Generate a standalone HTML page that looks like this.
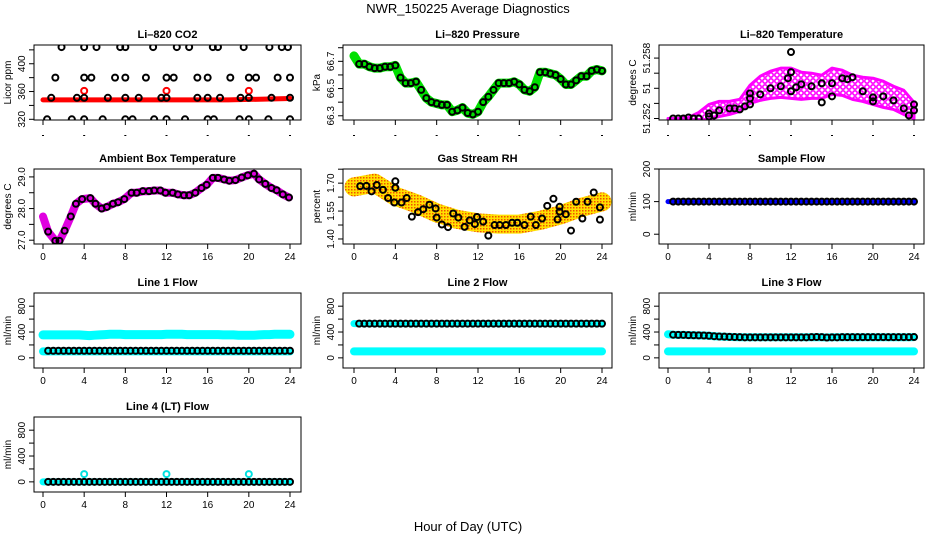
<!DOCTYPE html>
<html><head><meta charset="utf-8"><style>
body{margin:0;background:#fff;}
svg{display:block;font-family:"Liberation Sans",sans-serif;}
</style></head><body>
<svg id="c" width="936" height="540" viewBox="0 0 936 540"></svg>
<script>
const hh=[0,0.5,1,1.5,2,2.5,3,3.5,4,4.5,5,5.5,6,6.5,7,7.5,8,8.5,9,9.5,10,10.5,11,11.5,12,12.5,13,13.5,14,14.5,15,15.5,16,16.5,17,17.5,18,18.5,19,19.5,20,20.5,21,21.5,22,22.5,23,23.5,24];
const xTicks=[0,4,8,12,16,20,24];
// CO2
const co2Hours=[1.8,4,5.2,7.5,8,10.7,13,14.2,16.5,17,19.5,22,23.2,23.8, 1.2,4,4.7,7,8,10,12,12.7,15,16,18.2,20,20.7,22.8,24, 0.8,3.3,4,6.3,8,9.3,11.5,12,15,16,17.2,19.2,20,22.2,24, 0.4,2.8,4,5.8,8,8.7,10.8,12,13.8,16,16.6,19.1,20,21.9,24];
const co2Vals=[424,424,424,424,424,424,424,424,424,424,424,424,424,424, 380,380,380,380,380,380,380,380,380,380,380,380,380,380,380, 351,351,351,351,351,351,351,351,351,351,351,351,351,351,351, 320,320,320,320,320,320,320,320,320,320,320,320,320,320,320];
const co2BandHours=[0,6,12,18,24];
const co2BandVals=[348,348,348,348,350];
const co2RedHours=[4,12,20];
const co2RedVals=[361,361,361];
// Pressure
const pressVals=[66.74,66.68,66.68,66.66,66.65,66.65,66.66,66.66,66.67,66.58,66.54,66.54,66.55,66.49,66.43,66.40,66.39,66.38,66.38,66.33,66.34,66.36,66.32,66.31,66.33,66.40,66.44,66.49,66.54,66.54,66.54,66.55,66.53,66.49,66.48,66.51,66.62,66.62,66.61,66.60,66.57,66.53,66.53,66.56,66.59,66.59,66.63,66.64,66.63];
// Li-820 temperature
const tempEnvHours=[0,1,2,3,4,5,6,7,8,9,10,11,12,13,14,15,16,17,18,19,20,21,22,23,24];
const tempUpper=[51.2520,51.2520,51.2521,51.2526,51.2534,51.2537,51.2537,51.2539,51.2553,51.2562,51.2567,51.2570,51.2570,51.2566,51.2565,51.2563,51.2570,51.2568,51.2563,51.2561,51.2560,51.2557,51.2552,51.2548,51.2536];
const tempLower=[51.2519,51.2519,51.2519,51.2519,51.2519,51.2522,51.2524,51.2527,51.2535,51.2538,51.2540,51.2541,51.2540,51.2539,51.2540,51.2540,51.2544,51.2543,51.2539,51.2537,51.2534,51.2531,51.2529,51.2524,51.2520];
const tempHours=[0.5,1,1.5,2,2.5,3,4,4,4.5,5,6,6.5,7,7.5,8,8,8,9,10,11,11.7,12,12,12.5,13,14,15,15,16,16,17,17.5,18,19,20,20,21,22,23,23.5,24,24,12];
const tempVals=[51.2520,51.2520,51.2520,51.2521,51.2520,51.2520,51.2525,51.2522,51.2523,51.2528,51.2530,51.2530,51.2529,51.2532,51.2534,51.2540,51.2545,51.2544,51.2550,51.2552,51.2560,51.2566,51.2547,51.2551,51.2554,51.2552,51.2555,51.2536,51.2555,51.2542,51.2560,51.2559,51.2561,51.2547,51.2541,51.2537,51.2542,51.2538,51.2530,51.2523,51.2534,51.2528,51.2586];
// Ambient
const ambHours=[0,0.5,1.2,1.6,2.1,2.7,3.2,3.8,4.6,5.1,5.7,6.2,6.8,7.3,7.9,8.6,9.1,9.7,10.3,10.8,11.4,11.9,12.6,13.1,13.7,14.2,14.8,15.4,15.9,16.5,17.0,17.6,18.1,18.7,19.3,19.9,20.5,21.0,21.6,22.2,22.7,23.3,23.9];
const ambVals=[27.75,27.27,26.98,26.98,27.3,27.75,28.15,28.3,28.33,28.15,28.0,28.05,28.15,28.2,28.3,28.5,28.5,28.55,28.55,28.57,28.57,28.5,28.5,28.45,28.42,28.42,28.5,28.65,28.75,28.97,28.97,28.92,28.88,28.9,28.98,29.05,29.1,28.92,28.78,28.65,28.58,28.45,28.35];
// Gas RH
const rhBandHours=[0,2,4,6,8,10,12,14,16,18,20,22,24];
const rhBandVals=[1.68,1.70,1.63,1.59,1.54,1.505,1.487,1.48,1.48,1.50,1.53,1.57,1.60];
const rhHours=[0.6,1.2,1.7,2.2,2.8,3.3,3.9,4.0,4.0,4.6,5.1,5.6,6.2,6.7,7.3,7.9,8.0,8.5,9.1,9.6,10.1,10.7,11.2,11.7,11.9,12.5,13.0,13.6,14.1,14.7,15.3,15.8,16.5,17.1,17.6,18.2,18.7,19.3,19.7,19.9,19.9,20.5,21.0,21.5,22.1,22.6,23.2,23.8,23.8];
const rhVals=[1.684,1.685,1.656,1.69,1.664,1.62,1.596,1.71,1.675,1.596,1.62,1.52,1.544,1.56,1.584,1.564,1.515,1.478,1.464,1.537,1.515,1.465,1.50,1.48,1.518,1.493,1.418,1.475,1.475,1.475,1.487,1.487,1.475,1.52,1.475,1.51,1.578,1.616,1.505,1.547,1.573,1.533,1.445,1.60,1.51,1.60,1.65,1.57,1.504];
// Flows
const sampleVals=[100,100,100,100,100,100,100,100,100,100,100,100,100,100,100,100,100,100,100,100,100,100,100,100,100,100,100,100,100,100,100,100,100,100,100,100,100,100,100,100,100,100,100,100,100,100,100,100,100];
const l1Cyan=[355,355,355,355,355,355,355,355,350,345,350,355,360,365,365,365,360,360,360,360,360,360,360,360,365,365,365,365,360,360,360,360,360,360,360,355,355,355,350,350,350,350,355,360,360,365,365,365,365];
const l1Low=[100,100,100,100,100,100,100,100,100,100,100,100,100,100,100,100,100,100,100,100,100,100,100,100,100,100,100,100,100,100,100,100,100,100,100,100,100,100,100,100,100,100,100,100,100,100,100,100,100];
const l1Black=[110,110,110,110,110,110,110,110,110,110,110,110,110,110,110,110,110,110,110,110,110,110,110,110,110,110,110,110,110,110,110,110,110,110,110,110,110,110,110,110,110,110,110,110,110,110,110,110,110];
const l2Black=[530,530,530,530,530,530,530,530,530,530,530,530,530,530,530,530,530,530,530,530,530,530,530,530,530,530,530,530,530,530,530,530,530,530,530,530,530,530,530,530,530,530,530,530,530,530,530,530,530];
const l2Low=[100,100,100,100,100,100,100,100,100,100,100,100,100,100,100,100,100,100,100,100,100,100,100,100,100,100,100,100,100,100,100,100,100,100,100,100,100,100,100,100,100,100,100,100,100,100,100,100,100];
const l3Black=[365,358,355,355,352,350,348,346,342,335,330,328,325,322,320,318,318,318,318,318,318,318,318,318,318,318,318,318,320,322,320,315,318,318,320,320,320,320,320,320,320,320,320,320,320,320,320,320,322];
const l3Low=[100,100,100,100,100,100,100,100,100,100,100,100,100,100,100,100,100,100,100,100,100,100,100,100,100,100,100,100,100,100,100,100,100,100,100,100,100,100,100,100,100,100,100,100,100,100,100,100,100];
const l4Black=[0,0,0,0,0,0,0,0,0,0,0,0,0,0,0,0,0,0,0,0,0,0,0,0,0,0,0,0,0,0,0,0,0,0,0,0,0,0,0,0,0,0,0,0,0,0,0,0,0];
const l4SpikeHours=[4,12,20];
const l4SpikeVals=[120,120,120];

const NS="http://www.w3.org/2000/svg";
const svg=document.getElementById('c');
function mk(tag,attrs,parent){const e=document.createElementNS(NS,tag);for(const k in attrs)e.setAttribute(k,attrs[k]);(parent||svg).appendChild(e);return e;}
function txt(s,x,y,attrs,parent){const t=mk('text',Object.assign({x:x,y:y},attrs),parent);t.textContent=s;return t;}

const cols=[{l:34,r:301,x0:43,x24:290},{l:343,r:612,x0:354,x24:602},{l:659,r:924,x0:668,x24:914}];
const rows=[45,169,293,417];
const H=75;

function panel(name,ci,ri,title,ylab,dom,ticks,labels,showX){
  const c=cols[ci],t=rows[ri],b=t+H;
  const g=mk('g',{});
  
  
  const sx=h=>c.x0+(c.x24-c.x0)*h/24;
  const sy=v=>b-(v-dom[0])/(dom[1]-dom[0])*H;
  const tt=txt(title,(c.l+c.r)/2,t-7,{'text-anchor':'middle','font-size':'11','font-weight':'bold'},g);
  
  
  const yl=txt(ylab,0,0,{'text-anchor':'middle','font-size':'10',transform:`translate(${c.l-23},${t+H/2}) rotate(-90)`},g);
  
  
  const data=mk('g',{'clip-path':`url(#clip${ci}${ri})`},g);
  const cp=mk('clipPath',{id:`clip${ci}${ri}`},g);
  mk('rect',{x:c.l,y:t,width:c.r-c.l,height:H},cp);
  const box=mk('rect',{x:c.l,y:t,width:c.r-c.l,height:H,fill:'none',stroke:'#000','stroke-width':1},g);
  
  
  ticks.forEach((v,i)=>{
    const y=sy(v);
    mk('line',{x1:c.l-5,x2:c.l,y1:y,y2:y,stroke:'#000'},g);
    if(labels[i]){
      const lb=txt(labels[i],0,0,{'text-anchor':'middle','font-size':'10',transform:`translate(${c.l-9},${y}) rotate(-90)`},g);
      
      
    }
  });
  xTicks.forEach(h=>{
    const x=sx(h);
    mk('line',{x1:x,x2:x,y1:b,y2:b+5,stroke:'#000'},g);
    if(showX){
      const lb=txt(String(h),x,b+16,{'text-anchor':'middle','font-size':'10'},g);
      
      
    } else {
      mk('rect',{x:x-1,y:b+15,width:2,height:1,fill:'#000'},g);
    }
  });
  return {g:data,sx,sy};
}
function band(p,hours,vals,color,w,name,start){
  const pts=[];for(let i=start||0;i<hours.length;i++)pts.push(p.sx(hours[i]).toFixed(1)+','+p.sy(vals[i]).toFixed(1));
  const e=mk('polyline',{points:pts.join(' '),fill:'none',stroke:color,'stroke-width':w,'stroke-linejoin':'round','stroke-linecap':'round'},p.g);
  
  
  return e;
}
function pts(p,hours,vals,color,r,name,start){
  const g=mk('g',{},p.g);
  
  
  for(let i=start||0;i<hours.length;i++){
    mk('circle',{cx:p.sx(hours[i]),cy:p.sy(vals[i]),r:r,fill:'none',stroke:color,'stroke-width':2},g);
  }
}

txt('NWR_150225  Average Diagnostics',468,13,{'text-anchor':'middle','font-size':'13'});
txt('Hour of Day (UTC)',468,531,{'text-anchor':'middle','font-size':'13'});

// CO2
let p=panel('co2',0,0,'Li\u2013820 CO2','Licor ppm',[319,427],[320,340,360,380,400,420],['320','','360','','400',''],false);
band(p,co2BandHours,co2BandVals,'#f00',5,'co2-band');
pts(p,co2RedHours,co2RedVals,'#f00',3,'co2-red-points');
pts(p,co2Hours,co2Vals,'#000',3,'co2-points');
// Pressure
p=panel('pressure',1,0,'Li\u2013820 Pressure','kPa',[66.269,66.82],[66.3,66.4,66.5,66.6,66.7,66.8],['66.3','','66.5','','66.7',''],false);
band(p,hh,pressVals,'#00e000',9,'pressure-band');
pts(p,hh,pressVals,'#000',3,'pressure-points',1);
// Temperature
p=panel('li820-temp',2,0,'Li\u2013820 Temperature','degrees C',[51.25185,51.2593],[51.252,51.2535,51.255,51.2565,51.258],['51.252','','51','','51.258'],false);
(function(){const d=mk('defs',{},p.g);const pt=mk('pattern',{id:'tpat',width:6,height:6,patternUnits:'userSpaceOnUse'},d);mk('rect',{width:6,height:6,fill:'#fff'},pt);mk('circle',{cx:3,cy:3,r:2.2,fill:'none',stroke:'#f0f','stroke-width':1.6},pt);
const a=[];tempEnvHours.forEach((h,i)=>a.push(p.sx(h)+','+p.sy(tempUpper[i])));for(let i=tempEnvHours.length-1;i>=0;i--)a.push(p.sx(tempEnvHours[i])+','+p.sy(tempLower[i]));
const e=mk('polygon',{points:a.join(' '),fill:'url(#tpat)',stroke:'#f0f','stroke-width':3,'stroke-linejoin':'round'},p.g);

})();
pts(p,tempHours,tempVals,'#000',3,'temp-points');
// Ambient
p=panel('ambient',0,1,'Ambient Box Temperature','degrees C',[26.88,29.25],[27,27.5,28,28.5,29],['27.0','','28.0','','29.0'],true);
band(p,ambHours,ambVals,'#e000e0',8,'ambient-band');
pts(p,ambHours,ambVals,'#000',3,'ambient-points',1);
// RH
p=panel('rh',1,1,'Gas Stream RH','percent',[1.373,1.776],[1.40,1.475,1.55,1.625,1.70,1.775],['1.40','','1.55','','1.70',''],true);
(function(){const d=mk('defs',{},p.g);const pt=mk('pattern',{id:'rhpat',width:3,height:3,patternUnits:'userSpaceOnUse'},d);mk('rect',{width:3,height:3,fill:'#ffe000'},pt);mk('rect',{width:1.5,height:1.5,fill:'#f05000'},pt);})();
band(p,rhBandHours,rhBandVals,'url(#rhpat)',19,'rh-band');
pts(p,rhHours,rhVals,'#000',3,'rh-points');
// Sample flow
p=panel('sample-flow',2,1,'Sample Flow','ml/min',[-30,200],[0,100,200],['0','100','200'],true);
band(p,hh,sampleVals,'#00f',5,'sample-band');
pts(p,hh,sampleVals,'#000',3,'sample-points',1);
const fd=[-157,1004],ft=[0,200,400,600,800],fl=['0','','400','','800'];
// Line 1
p=panel('line1-flow',0,2,'Line 1 Flow','ml/min',fd,ft,fl,true);
band(p,hh,l1Cyan,'#00ffff',9,'line1-upper-band');
band(p,hh,l1Low,'#00ffff',8,'line1-lower-band');
pts(p,hh,l1Black,'#000',3,'line1-points',1);
// Line 2
p=panel('line2-flow',1,2,'Line 2 Flow','ml/min',fd,ft,fl,true);
band(p,hh,l2Low,'#00ffff',8,'line2-lower-band');
band(p,hh,l2Black,'#00ffff',7,'line2-upper-band');
pts(p,hh,l2Black,'#000',3,'line2-points',1);
// Line 3
p=panel('line3-flow',2,2,'Line 3 Flow','ml/min',fd,ft,fl,true);
band(p,hh,l3Low,'#00ffff',8,'line3-lower-band');
band(p,hh,l3Black,'#00ffff',8,'line3-upper-band');
pts(p,hh,l3Black,'#000',3,'line3-points',1);
// Line 4
p=panel('line4-flow',0,3,'Line 4 (LT) Flow','ml/min',fd,ft,fl,true);
band(p,hh,l4Black,'#00ffff',7,'line4-band');
pts(p,l4SpikeHours,l4SpikeVals,'#00e0e0',3,'line4-spikes');
pts(p,hh,l4Black,'#000',3,'line4-points',1);
</script>
</body></html>
